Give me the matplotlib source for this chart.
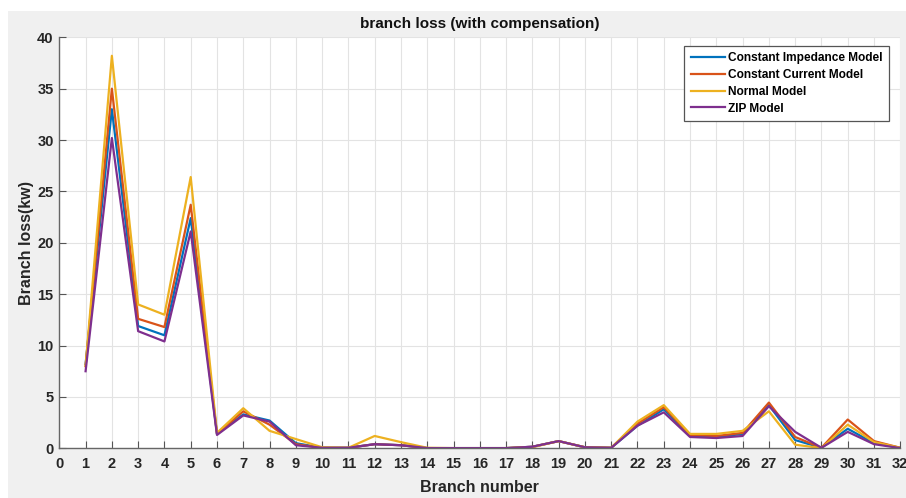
import numpy as np
import matplotlib.pyplot as plt
from matplotlib.patches import Rectangle

# branch loss values (kW), branches 1..32
branches = np.arange(1, 33)

const_impedance = [8.2, 33.0, 11.9, 11.0, 22.4, 1.4, 3.3, 2.7, 0.5, 0.05,
                   0.05, 0.4, 0.3, 0.02, 0.02, 0.02, 0.02, 0.15, 0.7, 0.1,
                   0.05, 2.2, 3.8, 1.2, 1.1, 1.4, 4.2, 0.8, 0.05, 1.9,
                   0.5, 0.05]
const_current = [8.0, 35.0, 12.6, 11.8, 23.7, 1.4, 3.6, 2.3, 0.4, 0.05,
                 0.05, 0.4, 0.3, 0.02, 0.02, 0.02, 0.02, 0.15, 0.7, 0.1,
                 0.05, 2.4, 4.0, 1.3, 1.2, 1.5, 4.45, 1.1, 0.05, 2.8,
                 0.7, 0.05]
normal_model = [8.0, 38.2, 14.0, 13.0, 26.4, 1.5, 3.9, 1.7, 0.9, 0.1,
                0.05, 1.2, 0.6, 0.05, 0.02, 0.02, 0.02, 0.1, 0.7, 0.1,
                0.05, 2.6, 4.2, 1.4, 1.4, 1.7, 3.6, 0.35, 0.02, 2.3,
                0.6, 0.05]
zip_model = [7.5, 30.2, 11.4, 10.4, 21.1, 1.3, 3.2, 2.6, 0.3, 0.05,
             0.05, 0.4, 0.3, 0.02, 0.02, 0.02, 0.02, 0.15, 0.7, 0.1,
             0.05, 2.2, 3.5, 1.1, 1.0, 1.2, 4.1, 1.6, 0.05, 1.6,
             0.4, 0.02]

series = [
    (const_impedance, 'Constant Impedance Model', '#0072BD'),
    (const_current, 'Constant Current Model', '#D95319'),
    (normal_model, 'Normal Model', '#EDB120'),
    (zip_model, 'ZIP Model', '#7E2F8E'),
]

plt.rcParams['font.family'] = ['Liberation Sans', 'DejaVu Sans']
plt.rcParams['font.weight'] = 'bold'

fig = plt.figure(figsize=(9.06, 4.98), dpi=100)
fig.patch.set_facecolor('white')
# matlab-like grey window background, with a thin white border top/left
fig.add_artist(Rectangle((8 / 906, 0), 1, 1 - 11 / 498, transform=fig.transFigure,
                         facecolor='#f0f0f0', edgecolor='none', zorder=-10))

ax = fig.add_axes([59.3 / 906, 1 - 448.3 / 498, (900.3 - 59.3) / 906, (448.3 - 37.3) / 498])
ax.set_facecolor('white')

for vals, name, col in series:
    ax.plot(branches, vals, color=col, linewidth=1.6, label=name)

ax.set_xlim(0, 32)
ax.set_ylim(0, 40)
ax.set_xticks(np.arange(0, 33))
ax.set_yticks(np.arange(0, 41, 5))
ax.grid(True, color='#e3e3e3', linewidth=0.8)
ax.set_axisbelow(True)
ax.tick_params(direction='in', length=5, color='#555555', labelsize=10.5,
               labelcolor='#262626', pad=4)
ax.tick_params(axis='x', pad=6)
for s in ['top', 'right']:
    ax.spines[s].set_visible(False)
for s in ['left', 'bottom']:
    ax.spines[s].set_color('#666666')
    ax.spines[s].set_linewidth(1.0)
for lbl in ax.get_xticklabels() + ax.get_yticklabels():
    lbl.set_fontweight('bold')

ax.set_title('branch loss (with compensation)', fontsize=11, fontweight='bold',
             color='#111111', pad=7)
ax.set_xlabel('Branch number', fontsize=11.5, fontweight='bold', color='#262626', labelpad=7)
ax.set_ylabel('Branch loss(kw)', fontsize=11.5, fontweight='bold', color='#262626', labelpad=2)

leg = ax.legend(loc='upper right', bbox_to_anchor=(0.9935, 0.994),
                frameon=True, fancybox=False, handlelength=2.9, handletextpad=0.2,
                borderpad=0.55, labelspacing=0.4, prop={'weight': 'bold', 'size': 8.6})
leg.get_frame().set_edgecolor('#555555')
leg.get_frame().set_linewidth(0.9)
leg.get_frame().set_alpha(1)

plt.savefig('out.png', dpi=100, facecolor=fig.get_facecolor())
